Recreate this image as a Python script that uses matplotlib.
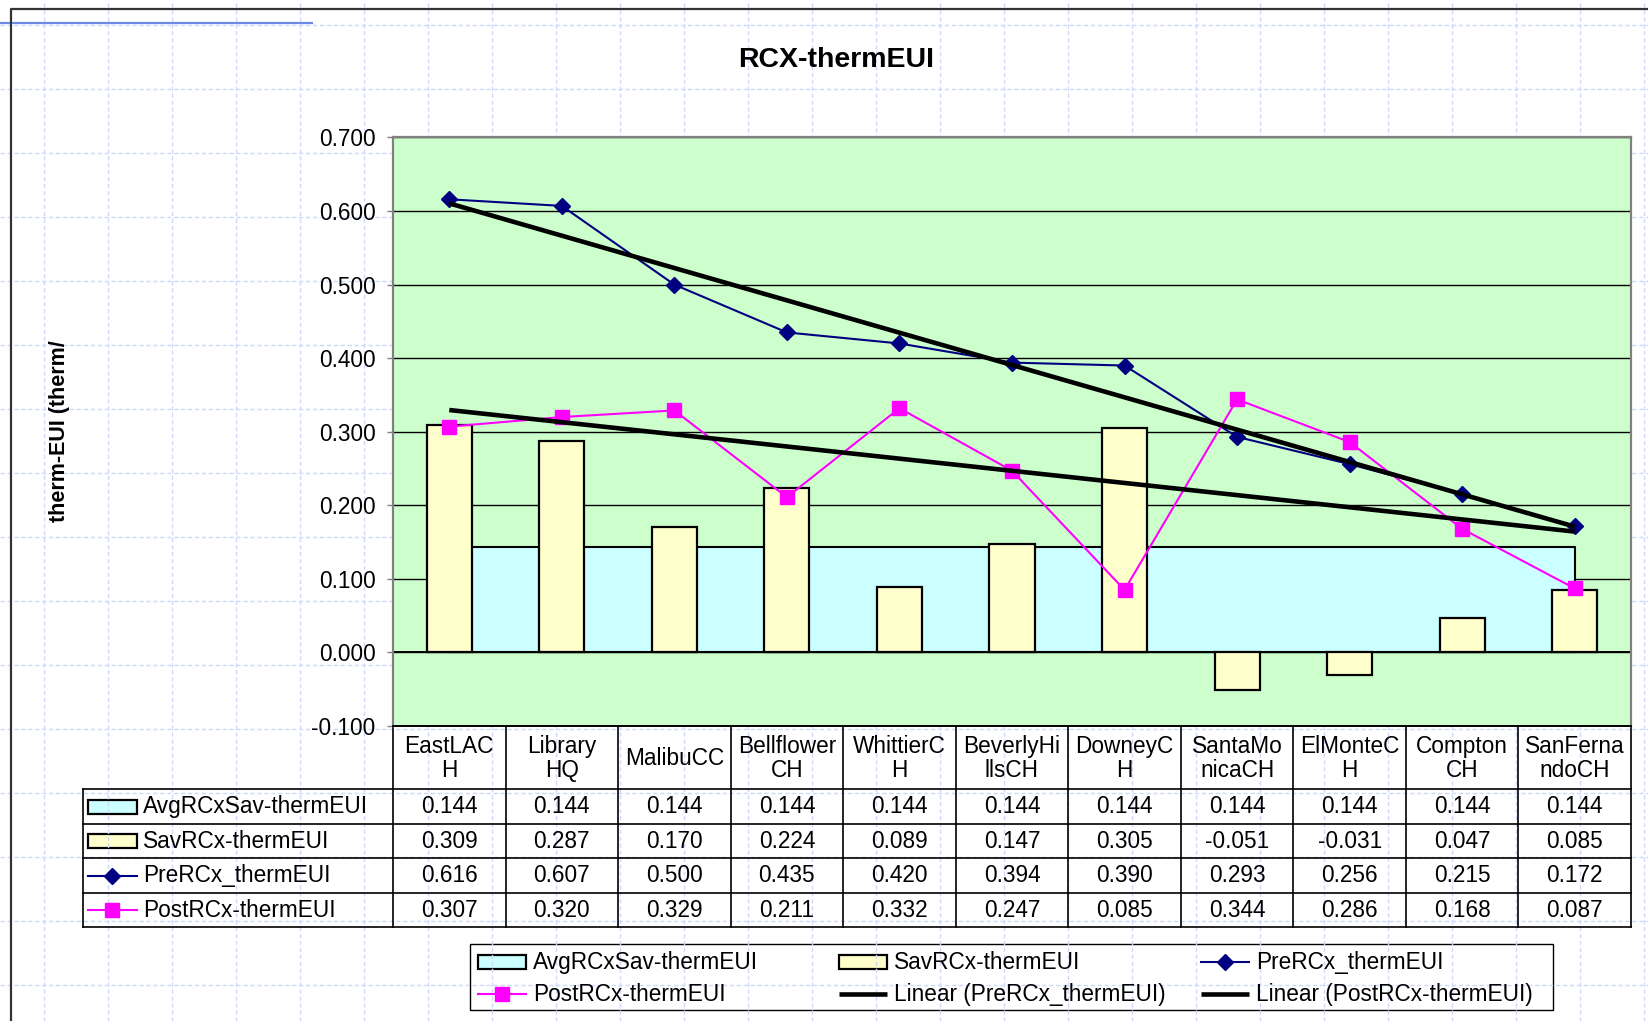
import numpy as np
import matplotlib
matplotlib.use("Agg")
import matplotlib.pyplot as plt
from matplotlib.lines import Line2D
from matplotlib.patches import Rectangle
from matplotlib.transforms import blended_transform_factory

# ---- data -------------------------------------------------------------
categories = ["EastLAC\nH", "Library\nHQ", "MalibuCC", "Bellflower\nCH", "WhittierC\nH",
              "BeverlyHi\nllsCH", "DowneyC\nH", "SantaMo\nnicaCH", "ElMonteC\nH",
              "Compton\nCH", "SanFerna\nndoCH"]
avg_sav = [0.144, 0.144, 0.144, 0.144, 0.144, 0.144, 0.144, 0.144, 0.144, 0.144, 0.144]
sav = [0.309, 0.287, 0.170, 0.224, 0.089, 0.147, 0.305, -0.051, -0.031, 0.047, 0.085]
pre = [0.616, 0.607, 0.500, 0.435, 0.420, 0.394, 0.390, 0.293, 0.256, 0.215, 0.172]
post = [0.307, 0.320, 0.329, 0.211, 0.332, 0.247, 0.085, 0.344, 0.286, 0.168, 0.087]
y_ticks = [-0.1, 0.0, 0.1, 0.2, 0.3, 0.4, 0.5, 0.6, 0.7]

names = ["AvgRCxSav-thermEUI", "SavRCx-thermEUI", "PreRCx_thermEUI", "PostRCx-thermEUI"]
trend_names = ["Linear (PreRCx_thermEUI)", "Linear (PostRCx-thermEUI)"]

# ---- styles -----------------------------------------------------------
C_PLOT = "#ccffcc"
C_AVG = "#ccffff"
C_SAV = "#ffffcc"
C_PRE = "#000080"
C_POST = "#ff00ff"
FS = 16.3

plt.rcParams["font.family"] = ["Liberation Sans", "DejaVu Sans"]

W, H, DPI = 1648, 1021, 100
fig = plt.figure(figsize=(W / DPI, H / DPI), dpi=DPI)
fig.patch.set_facecolor("white")


def fx(px):
    return px / W


def fy(py):
    return 1 - py / H


# ---- page layer in pixel units (sheet grid, chart frame) --------------
bg = fig.add_axes([0, 0, 1, 1], zorder=0)
bg.set_xlim(0, W)
bg.set_ylim(H, 0)
bg.set_frame_on(False)
bg.set_xticks(np.arange(44, W, 64))
bg.set_yticks(np.arange(25, H, 64))
bg.tick_params(length=0, labelbottom=False, labelleft=False)
bg.grid(True, color="#cdd8fb", lw=1.0, ls=(0, (3, 2)))
bg.plot([0, 313], [23.5, 23.5], color="#6d8ae6", lw=1.6, solid_capstyle="butt")
bg.plot([11, 11, W + 5], [H + 5, 9.5, 9.5], color="#333333", lw=1.6, clip_on=False)

# ---- plot area ---------------------------------------------------------
AX_L, AX_R, AX_T, AX_B = 393, 1631, 137.5, 726
ax = fig.add_axes([fx(AX_L), fy(AX_B), (AX_R - AX_L) / W, (AX_B - AX_T) / H], zorder=2)
ax.set_facecolor(C_PLOT)
x = np.arange(len(categories))
ax.set_xlim(-0.5, len(categories) - 0.5)
ax.set_ylim(y_ticks[0], y_ticks[-1])
ax.set_yticks(y_ticks)
ax.set_yticklabels([f"{v:.3f}" for v in y_ticks], fontsize=FS)
ax.set_xticks([])
ax.tick_params(axis="y", direction="out", length=4.5, width=1, color="#808080", pad=8)
ax.yaxis.grid(True, color="black", lw=1)
ax.set_axisbelow(True)
for side in ("left", "top", "right"):
    ax.spines[side].set_color("#808080")
    ax.spines[side].set_linewidth(1.6)
ax.spines["bottom"].set_color("black")
ax.spines["bottom"].set_linewidth(1.4)

ax.fill_between(x, 0, avg_sav, facecolor=C_AVG, edgecolor="black", lw=1.5, zorder=1)
ax.axhline(0, color="black", lw=1.4, zorder=1.6)
ax.bar(x, sav, width=0.4, color=C_SAV, edgecolor="black", lw=1.6, zorder=2)
ax.plot(x, pre, color=C_PRE, lw=1.5, marker="D", ms=8.5, zorder=4)
ax.plot(x, post, color=C_POST, lw=1.5, marker="s", ms=9.5, zorder=4)

ends = x[[0, -1]]
for series in (pre, post):
    coef = np.polyfit(x, series, 1)
    ax.plot(ends, np.polyval(coef, ends), color="black", lw=3.3, zorder=5,
            solid_capstyle="butt")

# ---- data table under the plot ---------------------------------------
col_tr = blended_transform_factory(ax.transData, bg.transData)
T_L = 83
row_edges = [789, 824, 858, 893, 927]
tbl_kw = dict(color="black", lw=1.2, clip_on=False)

for y_edge in row_edges:
    bg.plot([T_L, AX_R], [y_edge, y_edge], **tbl_kw)
bg.plot([T_L, T_L], [row_edges[0], row_edges[-1]], **tbl_kw)
for b in np.arange(len(categories) + 1) - 0.5:
    bg.plot([b, b], [AX_B, row_edges[-1]], transform=col_tr, **tbl_kw)

hdr_y = (AX_B + row_edges[0]) / 2
for i, lab in enumerate(categories):
    bg.text(i, hdr_y + 1, lab, transform=col_tr, ha="center", va="center",
            fontsize=FS, linespacing=1.1)

rows = [avg_sav, sav, pre, post]
for r, vals in enumerate(rows):
    yc = (row_edges[r] + row_edges[r + 1]) / 2
    for i, v in enumerate(vals):
        bg.text(i, yc, f"{v:.3f}", transform=col_tr, ha="center", va="center",
                fontsize=FS)
    bg.text(143, yc, names[r], ha="left", va="center", fontsize=FS)


def draw_key(kind, x0, x1, yc):
    xm = (x0 + x1) / 2
    if kind == 0:
        bg.add_patch(Rectangle((x0, yc - 7), x1 - x0, 14, facecolor=C_AVG,
                               edgecolor="black", lw=1.6, clip_on=False))
    elif kind == 1:
        bg.add_patch(Rectangle((x0, yc - 7), x1 - x0, 14, facecolor=C_SAV,
                               edgecolor="black", lw=1.6, clip_on=False))
    elif kind == 2:
        bg.add_line(Line2D([x0, x1], [yc, yc], color=C_PRE, lw=1.5, clip_on=False))
        bg.add_line(Line2D([xm], [yc], color=C_PRE, marker="D", ms=8.5, clip_on=False))
    elif kind == 3:
        bg.add_line(Line2D([x0, x1], [yc, yc], color=C_POST, lw=1.5, clip_on=False))
        bg.add_line(Line2D([xm], [yc], color=C_POST, marker="s", ms=9.5, clip_on=False))
    else:
        bg.add_line(Line2D([x0, x1], [yc, yc], color="black", lw=3.3, clip_on=False,
                           solid_capstyle="butt"))


for r in range(4):
    yc = (row_edges[r] + row_edges[r + 1]) / 2
    draw_key(r, 88, 137, yc)

# ---- legend box below the table --------------------------------------
bg.add_patch(Rectangle((470, 944), 1553 - 470, 66, facecolor="none",
                       edgecolor="black", lw=1.0, clip_on=False))
legend_items = [(0, names[0]), (1, names[1]), (2, names[2]),
                (3, names[3]), (4, trend_names[0]), (4, trend_names[1])]
col_x = [478, 839, 1201]
row_y = [962, 994]
for k, (kind, text) in enumerate(legend_items):
    cx = col_x[k % 3]
    cy = row_y[k // 3]
    draw_key(kind, cx, cx + 48, cy)
    bg.text(cx + 55, cy, text, ha="left", va="center", fontsize=FS)

# ---- titles ----------------------------------------------------------
fig.text(fx(836), fy(60), "RCX-thermEUI", ha="center", va="center",
         fontsize=20.5, fontweight="bold")
fig.text(fx(60), fy(431), "therm-EUI (therm/", ha="center", va="center",
         rotation=90, fontsize=15.5, fontweight="bold")

fig.savefig("out.png", dpi=DPI)
